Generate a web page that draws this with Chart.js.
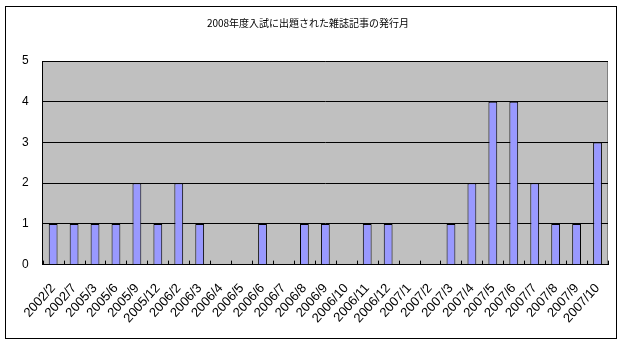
<!DOCTYPE html>
<html>
<head>
<meta charset="utf-8">
<script src="https://cdn.jsdelivr.net/npm/chart.js@4"></script>
<style>
  html, body { margin:0; padding:0; background:#fff; }
  #wrap { width:624px; height:344px; }
</style>
</head>
<body>
<div id="wrap"><canvas id="c" width="624" height="344"></canvas></div>
<script>
// data
const title = '2008年度入試に出題された雑誌記事の発行月';
const months = ['2002/2','2002/7','2005/3','2005/6','2005/9','2005/12','2006/2','2006/3','2006/4','2006/5',
  '2006/6','2006/7','2006/8','2006/9','2006/10','2006/11','2006/12','2007/1','2007/2','2007/3',
  '2007/4','2007/5','2007/6','2007/7','2007/8','2007/9','2007/10'];
const counts = [1,1,1,1,2,1,2,1,0,0, 1,0,1,1,0,1,1,0,0,1, 2,4,4,2,1,1,3];
const yTicks = [0,1,2,3,4,5];

// white page, outer frame, grey plot area
const frame = {
  id: 'frame',
  beforeDraw(chart){
    const c = chart.ctx, a = chart.chartArea;
    c.save();
    c.fillStyle = '#fff';
    c.fillRect(0,0,chart.width,chart.height);
    c.strokeStyle = '#000'; c.lineWidth = 1;
    c.strokeRect(5.5,6.5,611,332);
    c.fillStyle = '#c0c0c0';
    c.fillRect(a.left,a.top,a.right-a.left,a.bottom-a.top);
    c.strokeStyle = '#808080';
    c.beginPath();
    c.moveTo(a.left,a.top+0.5); c.lineTo(a.right-0.5,a.top+0.5); c.lineTo(a.right-0.5,a.bottom);
    c.stroke();
    c.restore();
  },
  // small tick marks pointing up into the plot, between categories
  afterDatasetsDraw(chart){
    const c = chart.ctx, x = chart.scales.x, a = chart.chartArea;
    c.save();
    c.strokeStyle = '#000'; c.lineWidth = 1;
    c.beginPath();
    for (let i=0;i<=months.length;i++){
      const px = Math.round(x.getPixelForValue(i-0.5))+0.5;
      c.moveTo(px,a.bottom); c.lineTo(px,a.bottom-4);
    }
    c.stroke();
    c.restore();
  }
};

new Chart(document.getElementById('c'), {
  type: 'bar',
  data: { labels: months, datasets: [{
    data: counts, backgroundColor: '#9999ff', borderColor: '#000', borderWidth: 1,
    categoryPercentage: 1, barPercentage: 0.42
  }]},
  options: {
    responsive: false, animation: false,
    layout: { padding: { left: 8, right: 16, top: 0, bottom: 10 } },
    plugins: {
      legend: { display: false }, tooltip: { enabled: false },
      title: { display: true, text: title, color: '#000',
        font: { family: '"Noto Sans CJK JP"', size: 10, weight: 'normal' },
        padding: { top: 17, bottom: 32 } }
    },
    scales: {
      x: {
        grid: { display: false },
        border: { display: true, color: '#000' },
        ticks: { color: '#000', autoSkip: false, minRotation: 48, maxRotation: 48, padding: 8,
          font: { family: '"Liberation Sans"', size: 13 } }
      },
      y: {
        min: 0, max: 5,
        afterBuildTicks(s){ s.ticks = yTicks.map(v => ({ value: v })); },
        grid: { color: '#000', drawTicks: false },
        border: { display: true, color: '#000' },
        ticks: { color: '#000', padding: 14, font: { family: '"Liberation Sans"', size: 12 } }
      }
    }
  },
  plugins: [frame]
});
</script>
</body>
</html>
